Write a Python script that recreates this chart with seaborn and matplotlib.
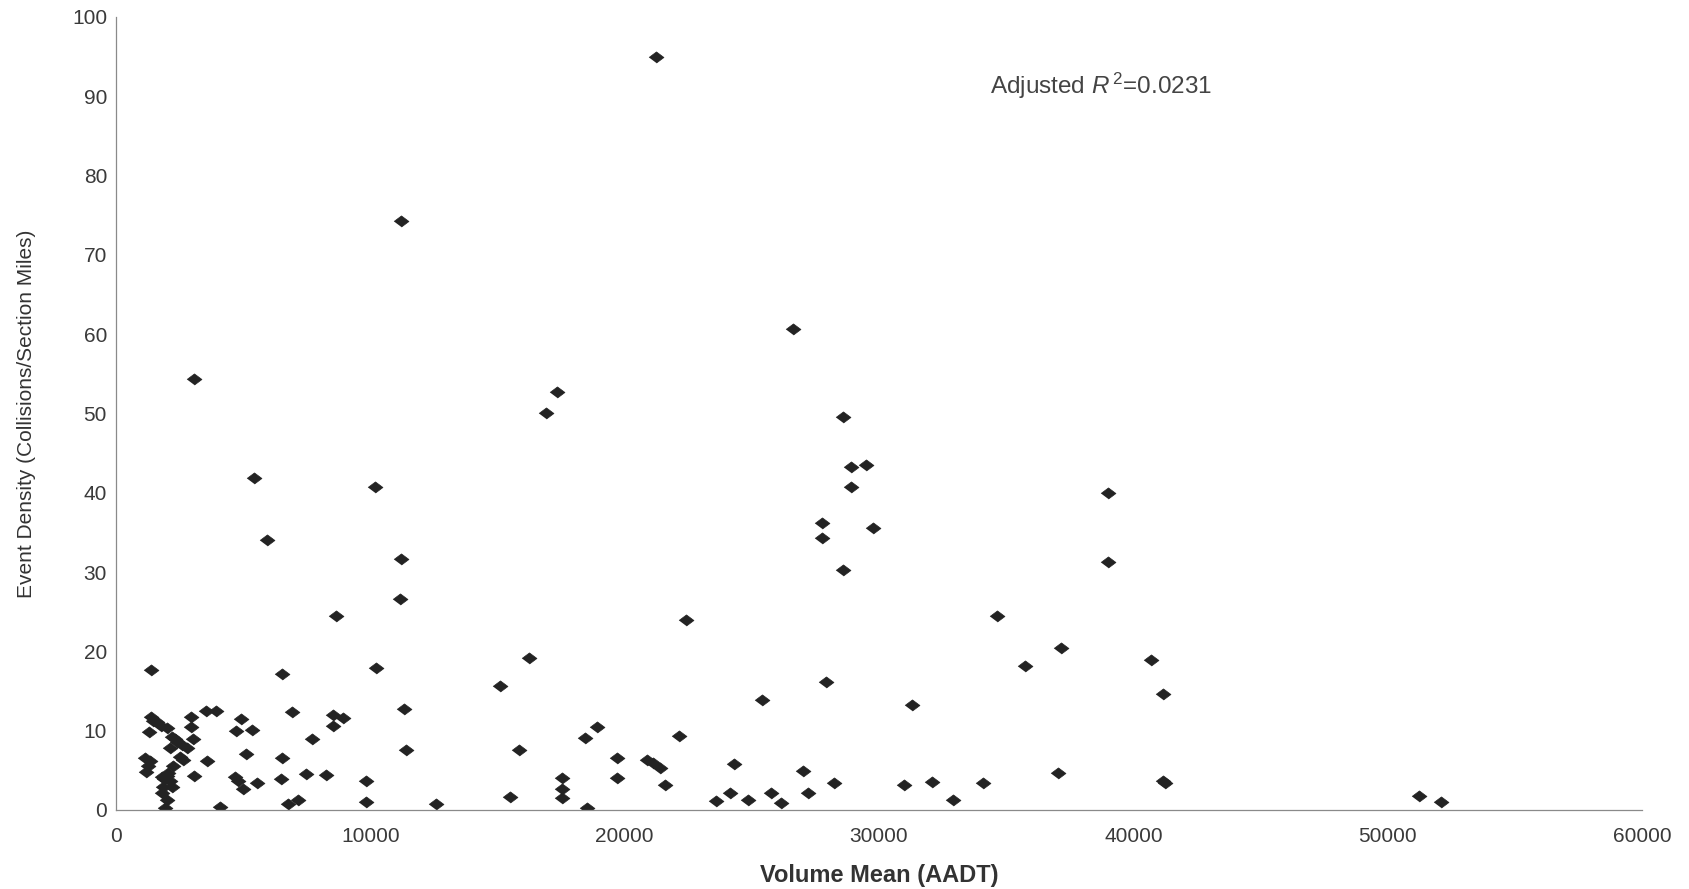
import matplotlib
matplotlib.use("Agg")
import matplotlib.pyplot as plt
import seaborn as sns
import pandas as pd

# Volume mean (AADT) vs. event density
volume_mean = [
    21229, 11186, 26600, 3051, 17331, 16907, 28602, 5424, 10169, 38983,
    28898, 29492, 28898, 27754, 27754, 29746, 5932, 11186, 28602, 38983,
    11150, 8650, 22412, 34654, 37157, 40697, 35742, 10210, 16251, 1376,
    6540, 27906, 15100, 41170, 25416, 31311,
    11324, 11403, 15857, 18441, 18900, 22152, 19690, 19690, 20867, 21129,
    21391, 21588, 17526, 17526, 17526, 18532, 15493, 12600, 9830, 9830,
    24300, 27025, 28244, 37052, 24143, 23580, 24838, 25754, 26135, 27196,
    30985, 32098, 32923, 34103, 41150, 41250, 51220, 52111,
    1376, 1450, 1310, 1993, 2189, 2386, 2123, 2582, 2936, 2936,
    3041, 2806, 3526, 3919, 4902, 4706, 5360, 6934, 8545, 8938,
    8545, 7719, 1337, 1271, 1180, 1140, 2517, 2648, 2254, 2057,
    1796, 2123, 1861, 1796, 1993, 1927, 2189, 1900, 2000, 3067,
    3591, 4679, 4810, 5006, 5557, 6514, 6488, 7471, 8257, 5098,
    4089, 6776, 7169, 1600, 1780, 2320,
]
event_density = [
    95.0, 74.3, 60.6, 54.3, 52.7, 50.1, 49.5, 41.8, 40.7, 40.0,
    43.3, 43.5, 40.7, 36.2, 34.3, 35.6, 34.1, 31.7, 30.2, 31.3,
    26.6, 24.5, 23.9, 24.4, 20.4, 18.9, 18.1, 17.9, 19.2, 17.7,
    17.2, 16.1, 15.6, 14.6, 13.9, 13.2,
    12.7, 7.5, 7.6, 9.1, 10.4, 9.3, 6.5, 4.0, 6.3, 5.9,
    5.3, 3.2, 4.0, 2.6, 1.5, 0.3, 1.6, 0.7, 3.6, 1.0,
    5.8, 4.9, 3.4, 4.7, 2.1, 1.1, 1.2, 2.2, 0.9, 2.1,
    3.2, 3.5, 1.2, 3.4, 3.6, 3.4, 1.8, 1.05,
    11.7, 11.2, 9.8, 10.3, 9.2, 8.6, 7.8, 8.2, 11.7, 10.5,
    9.0, 7.8, 12.5, 12.5, 11.5, 10.0, 10.1, 12.3, 12.0, 11.6,
    10.6, 9.0, 6.2, 5.5, 4.8, 6.6, 6.7, 6.3, 5.5, 4.6,
    4.2, 3.6, 2.9, 2.1, 1.3, 0.2, 2.9, 3.9, 4.3, 4.3,
    6.2, 4.2, 3.6, 2.6, 3.4, 6.5, 3.9, 4.5, 4.4, 7.0,
    0.4, 0.8, 1.3, 11.1, 10.6, 9.0,
]
x_ticks = [0, 10000, 20000, 30000, 40000, 50000, 60000]
y_ticks = [0, 10, 20, 30, 40, 50, 60, 70, 80, 90, 100]

df = pd.DataFrame({"volume": volume_mean, "density": event_density})

sns.set_style("white")
plt.rcParams["font.family"] = ["Liberation Sans", "DejaVu Sans"]
plt.rcParams["mathtext.fontset"] = "custom"
plt.rcParams["mathtext.rm"] = "Liberation Sans"
plt.rcParams["mathtext.it"] = "Liberation Sans:italic"

fig = plt.figure(figsize=(16.89, 8.89), dpi=100)
ax = fig.add_axes([0.0687, 0.0889, 0.9035, 0.892])

diamond = [(-1, 0), (0, 0.75), (1, 0), (0, -0.75)]
sns.scatterplot(data=df, x="volume", y="density", ax=ax, marker=diamond,
                s=115, color="#232323", edgecolor="#232323", linewidth=0.5)

ax.set_xlim(0, 60000)
ax.set_ylim(0, 100)
ax.set_xticks(x_ticks)
ax.set_yticks(y_ticks)
ax.tick_params(axis="both", labelsize=15, colors="#3a3a3a", length=5,
               width=0.8, direction="out")
ax.tick_params(axis="x", pad=7)
ax.tick_params(axis="y", pad=1.5)
for s in ["top", "right"]:
    ax.spines[s].set_visible(False)
for s in ["left", "bottom"]:
    ax.spines[s].set_color("#8a8a8a")
    ax.spines[s].set_linewidth(0.9)

ax.set_xlabel("Volume Mean (AADT)", fontsize=17, fontweight="bold",
              color="#333333", labelpad=13)
ax.set_ylabel("Event Density (Collisions/Section Miles)", fontsize=15,
              color="#333333", labelpad=26)

ax.text(34350, 91.3, "Adjusted $R^{\\,2}$=0.0231", fontsize=17.5,
        color="#444444", va="center", ha="left")

fig.savefig("out.png", dpi=100, facecolor="white")
